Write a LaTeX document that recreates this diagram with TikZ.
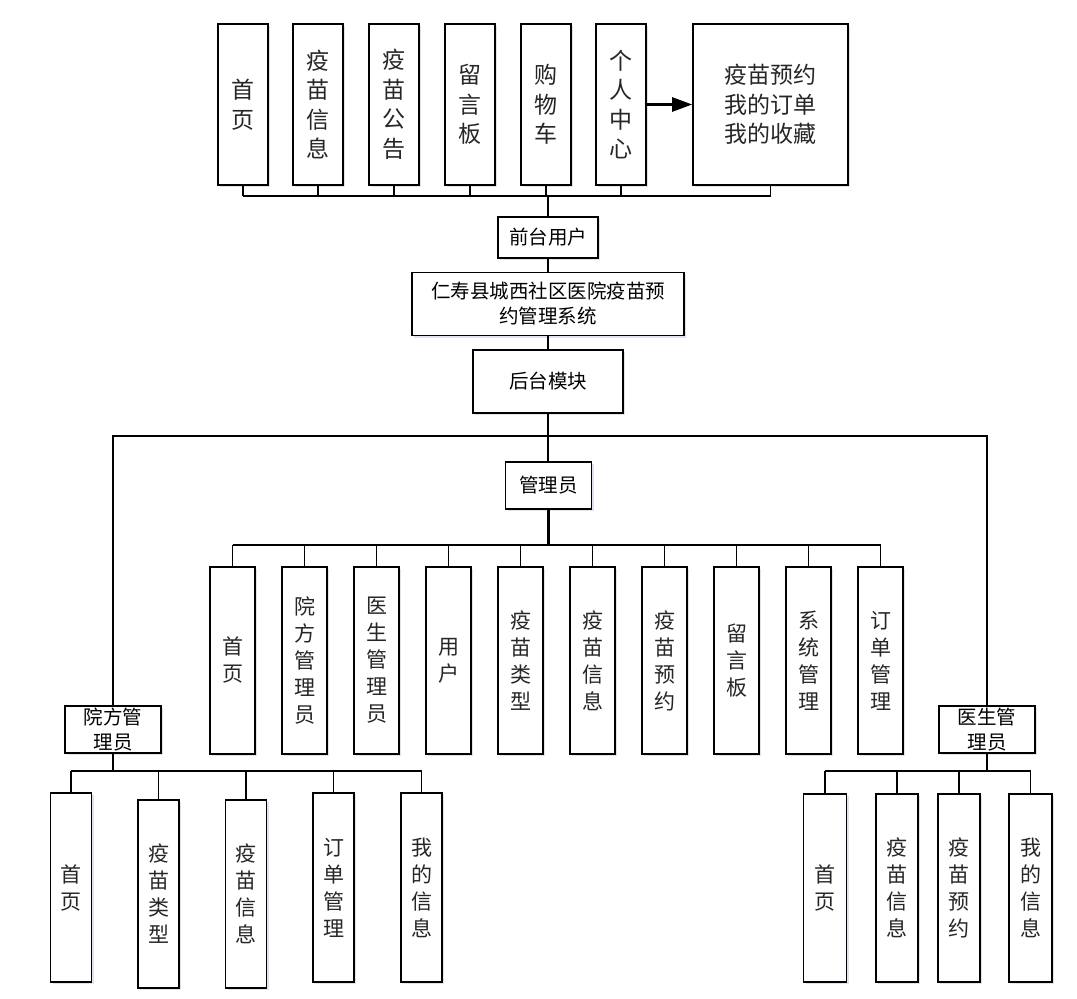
\documentclass[tikz,border=0pt]{standalone}
\usepackage{fontspec}
\newfontfamily\cjk{Noto Sans CJK SC}
\usetikzlibrary{arrows.meta,shadows}
\definecolor{shadowc}{RGB}{200,208,228}
\begin{document}
\begin{tikzpicture}[x=1pt,y=-1pt,
  box/.style={draw=black,line width=1.6pt,fill=white,inner sep=0pt,align=center,
    drop shadow={shadow xshift=2pt,shadow yshift=-2pt,fill=shadowc,opacity=0.6}},
  vtop/.style={box,minimum width=50pt,minimum height=161pt,text=black!85,
    font=\cjk\fontsize{23}{29.5}\selectfont},
  vmid/.style={box,minimum width=45pt,minimum height=187pt,text=black!85,
    font=\cjk\fontsize{21}{27}\selectfont},
  vlow/.style={box,minimum width=41pt,minimum height=189pt,text=black!85,
    font=\cjk\fontsize{21}{27}\selectfont},
  hbox/.style={box,font=\cjk\fontsize{19.5}{25}\selectfont},
  conn/.style={draw=black,line width=1.8pt},
  thickconn/.style={draw=black,line width=2.6pt}
]
\useasboundingbox (0,0) rectangle (1077,999);

% ---- top row ----
\node[vtop] (t1) at (243,104.5) {首\\页};
\node[vtop] (t2) at (318,104.5) {疫\\苗\\信\\息};
\node[vtop] (t3) at (394,104.5) {疫\\苗\\公\\告};
\node[vtop] (t4) at (470,104.5) {留\\言\\板};
\node[vtop] (t5) at (546,104.5) {购\\物\\车};
\node[vtop] (t6) at (621,104.5) {个\\人\\中\\心};
\node[vtop,minimum width=155pt] (tbig) at (770.5,104.5) {疫苗预约\\我的订单\\我的收藏};

\draw[line width=2.6pt,-{Triangle[length=20pt,width=14pt]}] (t6.east) -- (tbig.west);

% ---- centre column ----
\node[hbox,minimum width=100pt,minimum height=41pt] (front) at (548,237.5) {前台用户};
\node[hbox,minimum width=272pt,minimum height=63pt] (sys) at (548,304) {仁寿县城西社区医院疫苗预\\约管理系统};
\node[hbox,minimum width=150pt,minimum height=63pt] (back) at (548,381.5) {后台模块};
\node[hbox,minimum width=86pt,minimum height=47pt] (admin) at (548.5,485.5) {管理员};

\node[hbox,minimum width=96pt,minimum height=47pt] (yf) at (113,729.5) {院方管\\理员};
\node[hbox,minimum width=96pt,minimum height=47pt] (ys) at (987,729.5) {医生管\\理员};

% ---- admin row ----
\node[vmid] (a1) at (232.5,660.5) {首\\页};
\node[vmid] (a2) at (304.5,660.5) {院\\方\\管\\理\\员};
\node[vmid] (a3) at (376.5,660.5) {医\\生\\管\\理\\员};
\node[vmid] (a4) at (448.5,660.5) {用\\户};
\node[vmid] (a5) at (520.5,660.5) {疫\\苗\\类\\型};
\node[vmid] (a6) at (592.5,660.5) {疫\\苗\\信\\息};
\node[vmid] (a7) at (664.5,660.5) {疫\\苗\\预\\约};
\node[vmid] (a8) at (736.5,660.5) {留\\言\\板};
\node[vmid] (a9) at (808.5,660.5) {系\\统\\管\\理};
\node[vmid] (a10) at (880.5,660.5) {订\\单\\管\\理};

% ---- hospital admin row ----
\node[vlow] (l1) at (71,887.5) {首\\页};
\node[vlow,minimum height=188pt] (l2) at (158.5,894) {疫\\苗\\类\\型};
\node[vlow,minimum height=188pt] (l3) at (246,894) {疫\\苗\\信\\息};
\node[vlow] (l4) at (333.5,887.5) {订\\单\\管\\理};
\node[vlow] (l5) at (421.5,887.5) {我\\的\\信\\息};

% ---- doctor row ----
\node[vlow,minimum width=43pt,minimum height=188pt] (r1) at (825,888) {首\\页};
\node[vlow,minimum width=42pt,minimum height=188pt] (r2) at (897,888) {疫\\苗\\信\\息};
\node[vlow,minimum width=42pt,minimum height=188pt] (r3) at (959,888) {疫\\苗\\预\\约};
\node[vlow,minimum width=43pt,minimum height=188pt] (r4) at (1030.5,888) {我\\的\\信\\息};

% ---- connectors ----
\coordinate (busT) at (0,196);
\foreach \n in {t1,t2,t3,t4,t5,t6,tbig}
  \draw[conn] (\n.south) -- (\n.south |- busT);
\draw[thickconn] (t1.south |- busT) -- (tbig.south |- busT);
\draw[thickconn] (front.north |- busT) -- (front.north);

\draw[conn] (front.south) -- (sys.north);
\draw[conn] (sys.south) -- (back.north);
\draw[conn] (back.south) -- (back.south |- admin.north);

\coordinate (hY) at (0,436);
\draw[conn] (yf.north) -- (yf.north |- hY) -- (ys.north |- hY) -- (ys.north);

\coordinate (busA) at (0,545);
\draw[thickconn] (admin.south) -- (admin.south |- busA);
\draw[thickconn] (a1.north |- busA) -- (a10.north |- busA);
\foreach \n in {a1,a2,a3,a4,a5,a6,a7,a8,a9,a10}
  \draw[conn] (\n.north) -- (\n.north |- busA);

\coordinate (busL) at (0,771);
\draw[conn] (yf.south) -- (yf.south |- busL);
\draw[conn] (l1.north |- busL) -- (l5.north |- busL);
\foreach \n in {l1,l2,l3,l4,l5}
  \draw[conn] (\n.north) -- (\n.north |- busL);

\draw[conn] (ys.south) -- (ys.south |- busL);
\draw[conn] (r1.north |- busL) -- (r4.north |- busL);
\foreach \n in {r1,r2,r3,r4}
  \draw[conn] (\n.north) -- (\n.north |- busL);
\end{tikzpicture}
\end{document}
